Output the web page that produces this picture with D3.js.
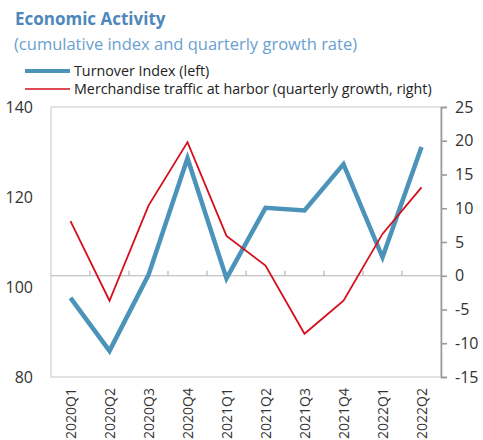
<!DOCTYPE html>
<html>
<head>
<meta charset="utf-8">
<script src="https://cdn.jsdelivr.net/npm/d3@7"></script>
<style>
  body { margin: 0; background: #fff; }
  text { font-family: "Open Sans", "Noto Sans", sans-serif; }
</style>
</head>
<body>
<script>
// chart data
const quarters = ["2020Q1","2020Q2","2020Q3","2020Q4","2021Q1","2021Q2","2021Q3","2021Q4","2022Q1","2022Q2"];
const turnover = [97.6, 85.8, 102.7, 128.6, 101.9, 117.6, 117.0, 127.3, 106.6, 131.1];
const harbor   = [8.1, -3.7, 10.4, 19.8, 5.9, 1.5, -8.6, -3.7, 6.2, 13.1];
const leftTicks  = [80, 100, 120, 140];
const rightTicks = [-15, -10, -5, 0, 5, 10, 15, 20, 25];

const width = 483, height = 440;
const blue = "#4b93b8", red = "#d4101c";

const svg = d3.select("body")
  .append("svg")
  .attr("xmlns","http://www.w3.org/2000/svg")
  .attr("width", width)
  .attr("height", height);

// title block
svg.append("text")
  .attr("x", 15).attr("y", 25)
  .attr("font-size", 17).attr("font-weight", "bold")
  .attr("fill", "#4f87bb")
  .text("Economic Activity");
svg.append("text")
  .attr("x", 14).attr("y", 50)
  .attr("font-size", 16.5)
  .attr("fill", "#6aa0cf")
  .text("(cumulative index and quarterly growth rate)");

// legend
const legend = svg.append("g").attr("class", "legend");
const legendItems = [
  { label: "Turnover Index (left)", color: blue, w: 4, y: 71 },
  { label: "Merchandise traffic at harbor (quarterly growth, right)", color: red, w: 1.6, y: 89 }
];
legendItems.forEach(d => {
  legend.append("line")
    .attr("x1", 25).attr("x2", 70)
    .attr("y1", d.y).attr("y2", d.y)
    .attr("stroke", d.color).attr("stroke-width", d.w);
  legend.append("text")
    .attr("x", 74).attr("y", d.y + 5)
    .attr("font-size", 14.3).attr("fill", "#222")
    .text(d.label);
});

// scales
const plot = { left: 51, right: 441, top: 107, bottom: 377 };

const x = d3.scaleBand()
  .domain(quarters)
  .range([plot.left, plot.right]);

const yLeft = d3.scaleLinear()
  .domain([80, 140])
  .range([plot.bottom, plot.top]);

const yRight = d3.scaleLinear()
  .domain([-15, 25])
  .range([plot.bottom, plot.top]);

// light frame
svg.append("rect")
  .attr("x", plot.left).attr("y", plot.top)
  .attr("width", plot.right - plot.left)
  .attr("height", plot.bottom - plot.top)
  .attr("fill", "none")
  .attr("stroke", "#cfcfcf").attr("stroke-width", 1.2);

// zero line with category ticks
const zeroY = yRight(0);
svg.append("line")
  .attr("x1", plot.left).attr("x2", plot.right)
  .attr("y1", zeroY).attr("y2", zeroY)
  .attr("stroke", "#b5b5b5").attr("stroke-width", 1.2);
svg.append("g")
  .selectAll("line")
  .data(quarters.slice(1))
  .join("line")
  .attr("x1", d => x(d)).attr("x2", d => x(d))
  .attr("y1", zeroY).attr("y2", zeroY - 5)
  .attr("stroke", "#b5b5b5").attr("stroke-width", 1.2);

// left axis labels
const leftAxis = svg.append("g")
  .attr("transform", `translate(${plot.left},0)`)
  .call(d3.axisLeft(yLeft).tickValues(leftTicks).tickSize(0).tickPadding(18));
leftAxis.select(".domain").remove();
leftAxis.selectAll("text")
  .attr("font-size", 16).attr("fill", "#333")
  .style("font-family", "'Open Sans', sans-serif");

// right axis
const rightAxis = svg.append("g")
  .attr("transform", `translate(${plot.right},0)`)
  .call(d3.axisRight(yRight).tickValues(rightTicks).tickFormat(d => String(d))
    .tickSize(6).tickSizeOuter(6).tickPadding(8));
rightAxis.select(".domain").attr("stroke", "#9a9a9a").attr("stroke-width", 1.6);
rightAxis.selectAll(".tick line").attr("stroke", "#9a9a9a").attr("stroke-width", 1.6);
rightAxis.selectAll("text")
  .attr("font-size", 16).attr("fill", "#333")
  .style("font-family", "'Open Sans', sans-serif");

// x labels rotated
svg.append("g")
  .selectAll("text")
  .data(quarters)
  .join("text")
  .attr("transform", d => `translate(${x(d) + x.bandwidth() / 2 + 5},${plot.bottom + 11}) rotate(-90)`)
  .attr("text-anchor", "end")
  .attr("font-size", 14).attr("fill", "#333")
  .text(d => d);

// lines
const xc = i => x(quarters[i]) + x.bandwidth() / 2;

svg.append("path")
  .datum(turnover)
  .attr("fill", "none")
  .attr("stroke", blue).attr("stroke-width", 4.5)
  .attr("stroke-linejoin", "miter")
  .attr("d", d3.line().x((d, i) => xc(i)).y(d => yLeft(d)));

svg.append("path")
  .datum(harbor)
  .attr("fill", "none")
  .attr("stroke", red).attr("stroke-width", 1.8)
  .attr("d", d3.line().x((d, i) => xc(i)).y(d => yRight(d)));
</script>
</body>
</html>
